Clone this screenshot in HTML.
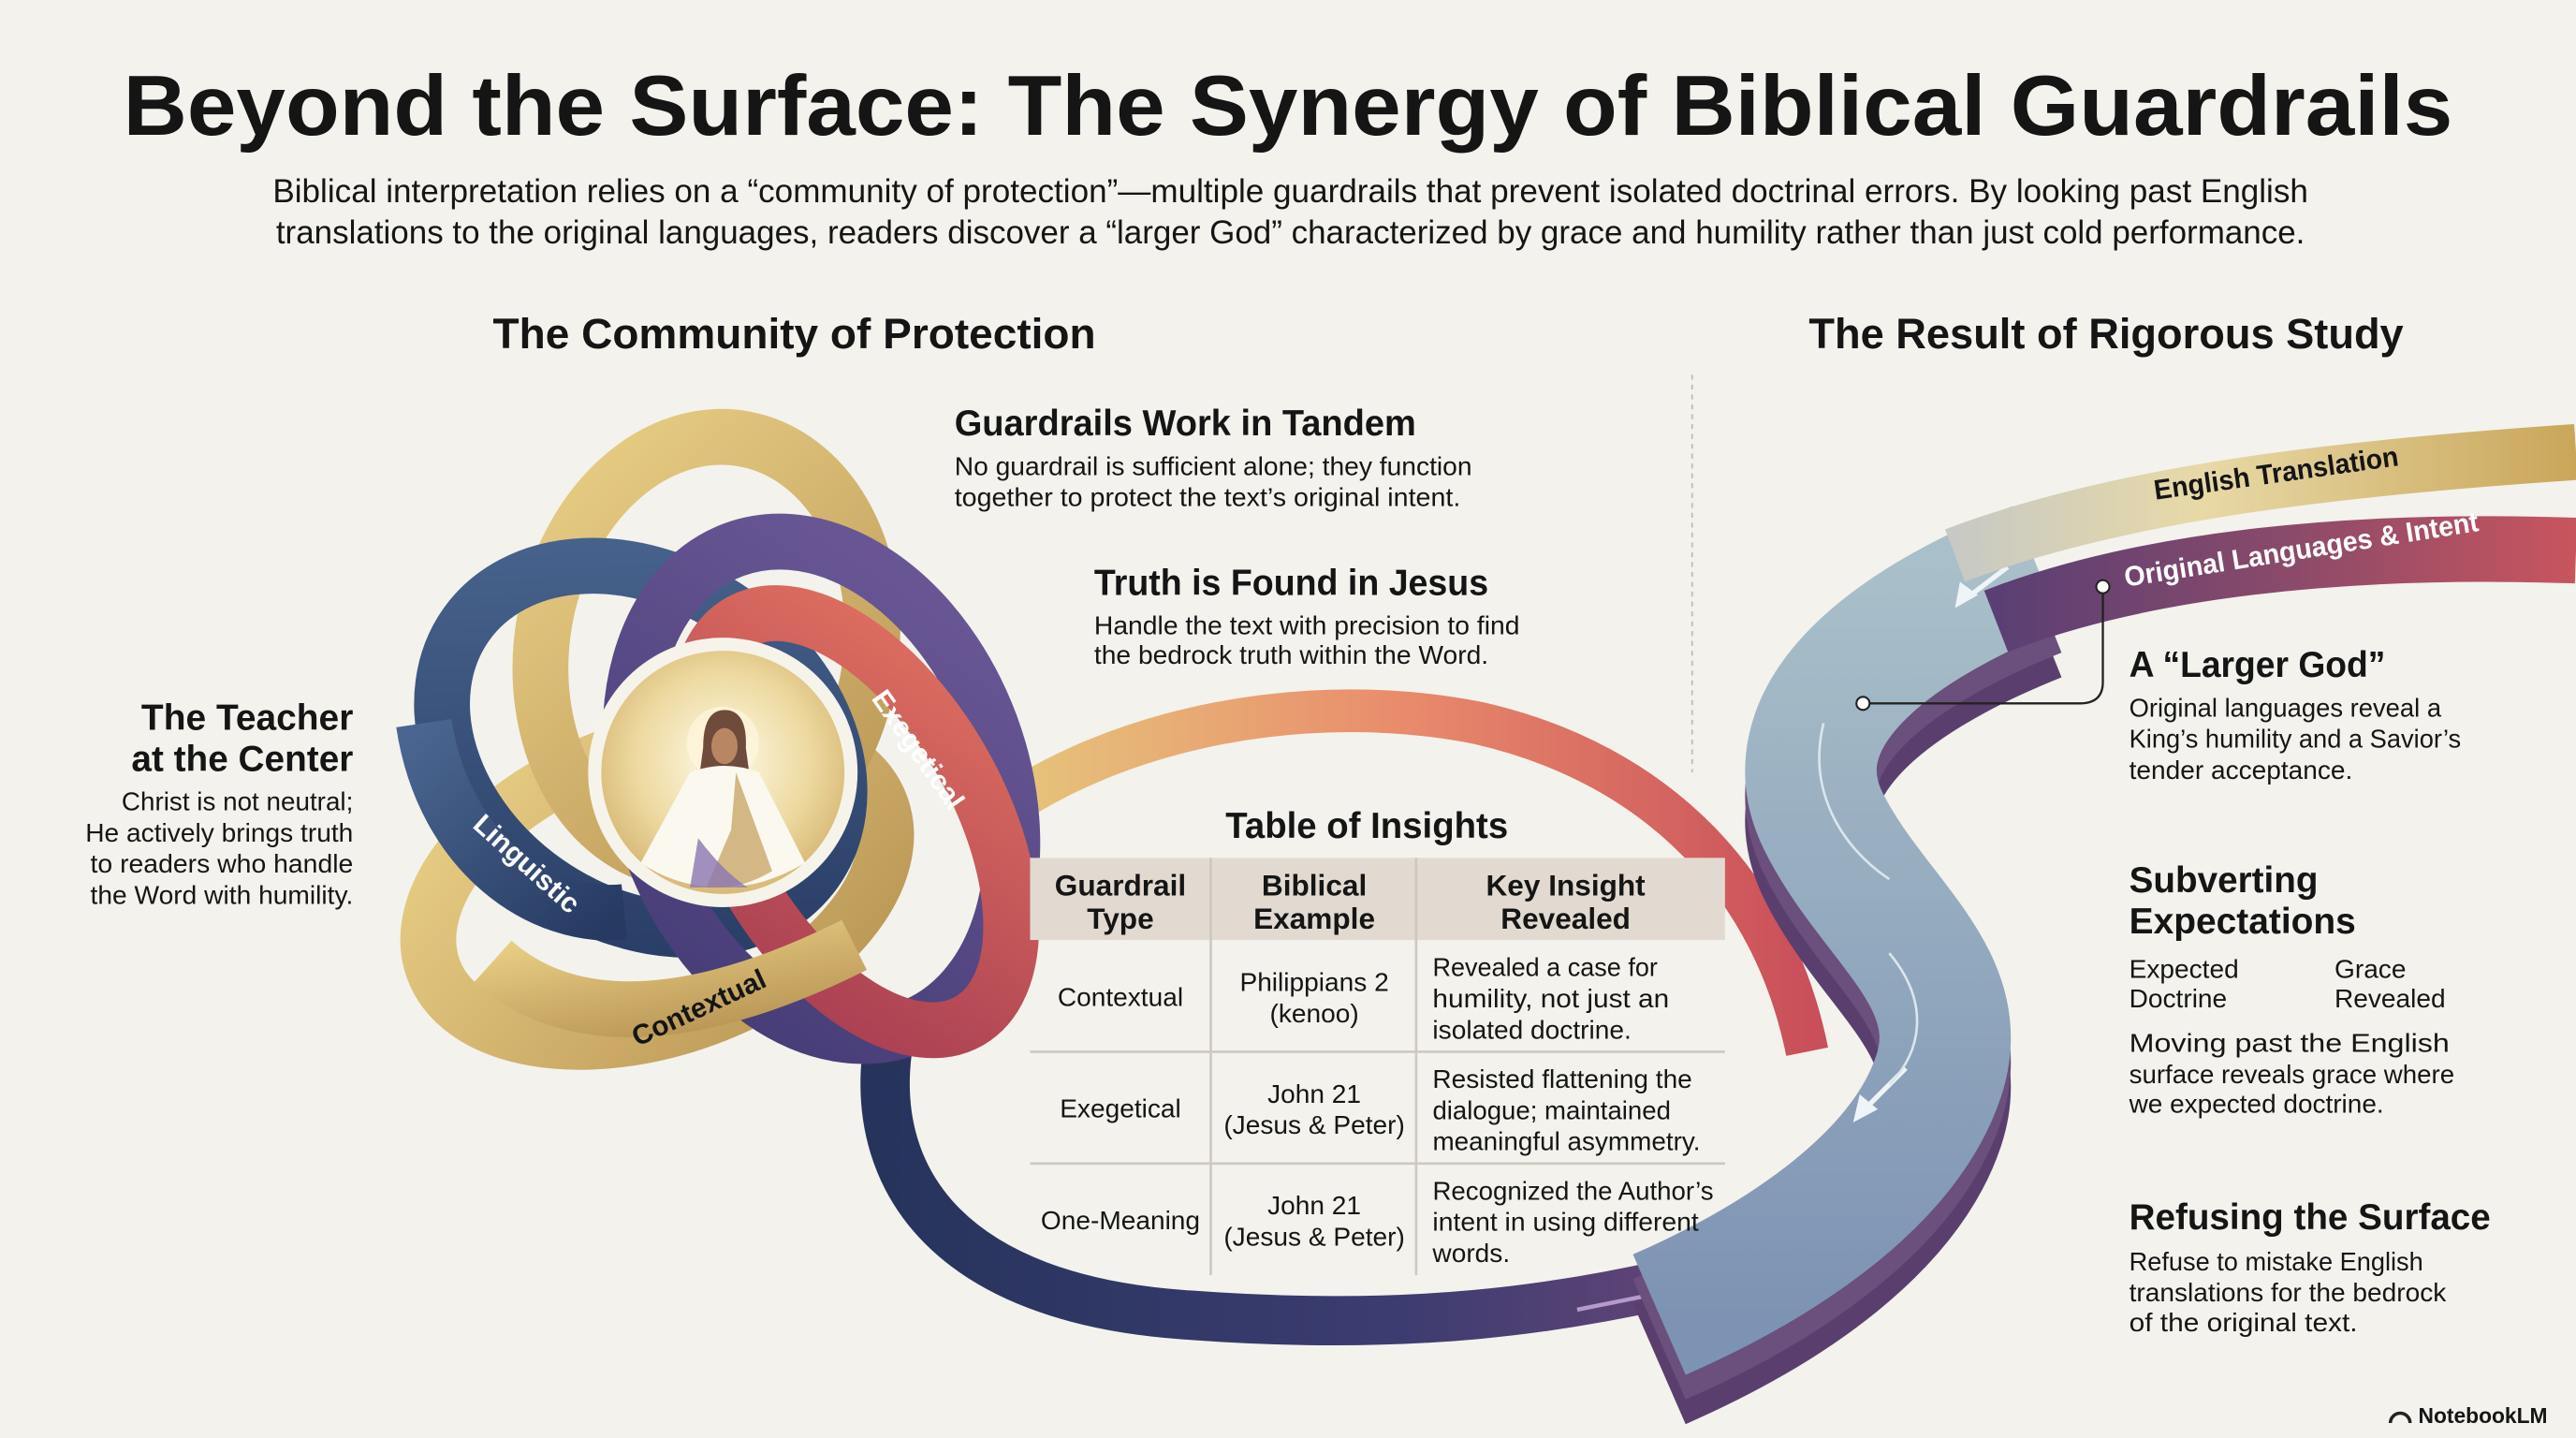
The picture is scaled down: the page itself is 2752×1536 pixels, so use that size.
<!DOCTYPE html>
<html><head><meta charset="utf-8"><style>
html,body{margin:0;padding:0;background:#f3f2ed;}
svg{display:block;}
text{font-family:"Liberation Sans",sans-serif;fill:#151515;}
.h{font-weight:bold;font-size:22px;}
.b{font-size:16px;}
.t{font-size:16px;}
</style></head><body>
<svg width="2752" height="1536" viewBox="0 0 1568 875" xmlns="http://www.w3.org/2000/svg">
<defs>
<linearGradient id="gold" x1="0" y1="0" x2="1" y2="1"><stop offset="0" stop-color="#e9cf86"/><stop offset="1" stop-color="#b99554"/></linearGradient>
<linearGradient id="blue" x1="0" y1="0" x2="1" y2="1"><stop offset="0" stop-color="#4a6690"/><stop offset="1" stop-color="#263a62"/></linearGradient>
<linearGradient id="purp" x1="0" y1="0" x2="1" y2="1"><stop offset="0" stop-color="#6d5a98"/><stop offset="1" stop-color="#433a74"/></linearGradient>
<linearGradient id="red" x1="0" y1="0" x2="1" y2="1"><stop offset="0" stop-color="#e07060"/><stop offset="1" stop-color="#a63d52"/></linearGradient>
<linearGradient id="arcg" x1="0" y1="0" x2="1" y2="0"><stop offset="0" stop-color="#e6c97c"/><stop offset="0.5" stop-color="#e98c6c"/><stop offset="1" stop-color="#c94f5a"/></linearGradient>
<linearGradient id="navy" x1="0" y1="0" x2="1" y2="0"><stop offset="0" stop-color="#26345c"/><stop offset="0.6" stop-color="#3c3c70"/><stop offset="1" stop-color="#6a4678"/></linearGradient>
<linearGradient id="topg" x1="0" y1="0" x2="1" y2="0"><stop offset="0" stop-color="#c7c9c4"/><stop offset="0.4" stop-color="#e8d9a6"/><stop offset="1" stop-color="#c9a65a"/></linearGradient>
<linearGradient id="topr" x1="0" y1="0" x2="1" y2="0"><stop offset="0" stop-color="#5a3f74"/><stop offset="0.5" stop-color="#8a4a6a"/><stop offset="1" stop-color="#c8555e"/></linearGradient>
<linearGradient id="river" x1="0" y1="0" x2="0" y2="1"><stop offset="0" stop-color="#a9bfc9"/><stop offset="1" stop-color="#7d93b3"/></linearGradient>
<radialGradient id="halo" cx="0.5" cy="0.45" r="0.6"><stop offset="0" stop-color="#fffbe8"/><stop offset="0.6" stop-color="#edd9a0"/><stop offset="1" stop-color="#d3b26d"/></radialGradient>
</defs>
<rect width="1568" height="875" fill="#f3f2ed"/>

<!-- Title -->
<text x="784" y="82" text-anchor="middle" font-size="52" font-weight="bold" textLength="1418" lengthAdjust="spacingAndGlyphs">Beyond the Surface: The Synergy of Biblical Guardrails</text>
<text x="166" y="123" font-size="20" textLength="1239" lengthAdjust="spacingAndGlyphs">Biblical interpretation relies on a “community of protection”—multiple guardrails that prevent isolated doctrinal errors. By looking past English</text>
<text x="168" y="148" font-size="20" textLength="1235" lengthAdjust="spacingAndGlyphs">translations to the original languages, readers discover a “larger God” characterized by grace and humility rather than just cold performance.</text>

<text x="300" y="212" font-size="26" font-weight="bold" textLength="367" lengthAdjust="spacingAndGlyphs">The Community of Protection</text>
<text x="1101" y="212" font-size="26" font-weight="bold" textLength="362" lengthAdjust="spacingAndGlyphs">The Result of Rigorous Study</text>
<line x1="1030" y1="228" x2="1030" y2="470" stroke="#bbb" stroke-width="1" stroke-dasharray="3,3"/>

<!-- Big loop around table -->
<path d="M600,500 C680,440 800,420 900,440 C1010,465 1080,540 1100,640" fill="none" stroke="url(#arcg)" stroke-width="26"/>
<path d="M540,640 C530,720 580,790 720,800 C850,810 950,800 1060,770" fill="none" stroke="url(#navy)" stroke-width="30"/>
<path d="M960,797 L1035,782" stroke="#b59acb" stroke-width="2.5" fill="none"/>
<path d="M1043,780 L1028,775 L1031,789 Z" fill="#b59acb"/>

<!-- River -->
<g fill="none" stroke-width="80">
<path d="M1240,345 C1140,385 1080,440 1110,500 C1140,560 1200,595 1180,655 C1160,715 1090,765 1010,800" stroke="#5a3f6e" transform="translate(0,30)"/>
<path d="M1240,345 C1140,385 1080,440 1110,500 C1140,560 1200,595 1180,655 C1160,715 1090,765 1010,800" stroke="#6b4f7c" transform="translate(0,15)"/>
<path d="M1240,345 C1140,385 1080,440 1110,500 C1140,560 1200,595 1180,655 C1160,715 1090,765 1010,800" stroke="url(#river)"/>
</g>
<path d="M1222,345 L1197,364" stroke="#eef4f7" stroke-width="3"/><path d="M1190,370 L1193,354 L1204,362 Z" fill="#eef4f7"/>
<path d="M1160,650 L1135,675" stroke="#eef4f7" stroke-width="3"/><path d="M1128,683 L1132,666 L1143,675 Z" fill="#eef4f7"/>
<path d="M1110,440 C1100,480 1120,515 1150,535" stroke="#dbe6ec" stroke-width="1.5" fill="none"/>
<path d="M1150,580 C1175,610 1170,640 1150,660" stroke="#dbe6ec" stroke-width="1.5" fill="none"/>

<!-- top ribbons -->
<path d="M1215,378 C1300,345 1420,330 1568,335" fill="none" stroke="url(#topr)" stroke-width="40"/>
<path d="M1190,338 C1290,300 1420,285 1568,275" fill="none" stroke="url(#topg)" stroke-width="34"/>
<text x="1312" y="304" font-size="17" font-weight="bold" transform="rotate(-8 1312 304)" textLength="150" lengthAdjust="spacingAndGlyphs">English Translation</text>
<text x="1294" y="357" font-size="17" font-weight="bold" style="fill:#fff" transform="rotate(-9 1294 357)" textLength="218" lengthAdjust="spacingAndGlyphs">Original Languages &amp; Intent</text>

<!-- connector -->
<path d="M1280,357 L1280,415 Q1280,428 1266,428 L1134,428" fill="none" stroke="#222" stroke-width="1.3"/>
<circle cx="1280" cy="357" r="4" fill="#fff" stroke="#222" stroke-width="1.2"/>
<circle cx="1134" cy="428" r="4" fill="#fff" stroke="#222" stroke-width="1.2"/>

<!-- Rings -->
<g fill="none" stroke-width="34">
<ellipse cx="400" cy="540" rx="145" ry="85" transform="rotate(-20 400 540)" stroke="url(#gold)"/>
<ellipse cx="430" cy="395" rx="100" ry="130" transform="rotate(10 430 395)" stroke="url(#gold)"/>
<ellipse cx="390" cy="455" rx="130" ry="100" transform="rotate(35 390 455)" stroke="url(#blue)"/>
<ellipse cx="500" cy="480" rx="155" ry="110" transform="rotate(70 500 480)" stroke="url(#purp)"/>
<ellipse cx="520" cy="500" rx="140" ry="75" transform="rotate(60 520 500)" stroke="url(#red)"/>
<path d="M300,585 C350,630 430,620 520,575" stroke="url(#gold)"/>
<path d="M258,440 C270,520 330,560 380,555" stroke="url(#blue)"/>
</g>
<text x="287" y="503" font-size="17" font-weight="bold" style="fill:#fff" transform="rotate(42 287 503)">Linguistic</text>
<text x="530" y="425" font-size="17" font-weight="bold" style="fill:#fff" transform="rotate(55 530 425)">Exegetical</text>
<text x="388" y="637" font-size="17" font-weight="bold" transform="rotate(-25 388 637)">Contextual</text>

<!-- center Jesus -->
<circle cx="440" cy="470" r="82" fill="#f6f3ea"/>
<circle cx="440" cy="470" r="74" fill="url(#halo)"/>
<circle cx="440" cy="452" r="22" fill="#fff7e0" opacity="0.7"/>
<path d="M428,455 Q428,432 441,432 Q455,432 454,455 L456,470 L426,470 Z" fill="#6e4b3a"/>
<ellipse cx="441" cy="454" rx="8" ry="11" fill="#b98663"/>
<path d="M420,470 Q441,462 462,470 L490,525 Q465,540 440,540 Q412,540 390,525 Z" fill="#fbf8f0"/>
<path d="M448,470 L470,530 Q450,542 430,540 L445,505 Z" fill="#c9a86a" opacity="0.8"/>
<path d="M425,510 Q440,530 455,540 L420,540 Z" fill="#8b75b0" opacity="0.8"/>

<!-- middle texts -->
<text x="581" y="265" class="h" textLength="281" lengthAdjust="spacingAndGlyphs">Guardrails Work in Tandem</text>
<text x="581" y="289" class="b" textLength="315" lengthAdjust="spacingAndGlyphs">No guardrail is sufficient alone; they function</text>
<text x="581" y="308" class="b" textLength="308" lengthAdjust="spacingAndGlyphs">together to protect the text’s original intent.</text>
<text x="666" y="362" class="h" textLength="240" lengthAdjust="spacingAndGlyphs">Truth is Found in Jesus</text>
<text x="666" y="386" class="b" textLength="259" lengthAdjust="spacingAndGlyphs">Handle the text with precision to find</text>
<text x="666" y="404" class="b" textLength="240" lengthAdjust="spacingAndGlyphs">the bedrock truth within the Word.</text>

<text x="215" y="444" class="h" text-anchor="end" textLength="129" lengthAdjust="spacingAndGlyphs">The Teacher</text>
<text x="215" y="469" class="h" text-anchor="end" textLength="135" lengthAdjust="spacingAndGlyphs">at the Center</text>
<text x="215" y="493" class="b" text-anchor="end" textLength="141" lengthAdjust="spacingAndGlyphs">Christ is not neutral;</text>
<text x="215" y="512" class="b" text-anchor="end" textLength="163" lengthAdjust="spacingAndGlyphs">He actively brings truth</text>
<text x="215" y="531" class="b" text-anchor="end" textLength="160" lengthAdjust="spacingAndGlyphs">to readers who handle</text>
<text x="215" y="550" class="b" text-anchor="end" textLength="160" lengthAdjust="spacingAndGlyphs">the Word with humility.</text>

<!-- Table -->
<text x="832" y="510" text-anchor="middle" class="h" textLength="172" lengthAdjust="spacingAndGlyphs">Table of Insights</text>
<rect x="627" y="522" width="423" height="50" fill="#e2dad1"/>
<g stroke="#cfc8bf" stroke-width="1.5">
<line x1="737" y1="522" x2="737" y2="776"/><line x1="862" y1="522" x2="862" y2="776"/>
<line x1="627" y1="640" x2="1050" y2="640"/><line x1="627" y1="708" x2="1050" y2="708"/>
</g>
<g font-size="18" font-weight="bold" text-anchor="middle">
<text x="682" y="545">Guardrail</text><text x="682" y="565">Type</text>
<text x="800" y="545">Biblical</text><text x="800" y="565">Example</text>
<text x="953" y="545">Key Insight</text><text x="953" y="565">Revealed</text>
</g>
<g class="t" text-anchor="middle">
<text x="682" y="612" class="t">Contextual</text>
<text x="800" y="603" class="t">Philippians 2</text><text x="800" y="622" class="t">(kenoo)</text>
<text x="682" y="680" class="t">Exegetical</text>
<text x="800" y="671" class="t">John 21</text><text x="800" y="690" class="t">(Jesus &amp; Peter)</text>
<text x="682" y="748" class="t">One-Meaning</text>
<text x="800" y="739" class="t">John 21</text><text x="800" y="758" class="t">(Jesus &amp; Peter)</text>
</g>
<g class="t">
<text x="872" y="594" class="t" textLength="137" lengthAdjust="spacingAndGlyphs">Revealed a case for</text>
<text x="872" y="613" class="t" textLength="144" lengthAdjust="spacingAndGlyphs">humility, not just an</text>
<text x="872" y="632" class="t" textLength="121" lengthAdjust="spacingAndGlyphs">isolated doctrine.</text>
<text x="872" y="662" class="t" textLength="158" lengthAdjust="spacingAndGlyphs">Resisted flattening the</text>
<text x="872" y="681" class="t" textLength="145" lengthAdjust="spacingAndGlyphs">dialogue; maintained</text>
<text x="872" y="700" class="t" textLength="163" lengthAdjust="spacingAndGlyphs">meaningful asymmetry.</text>
<text x="872" y="730" class="t" textLength="171" lengthAdjust="spacingAndGlyphs">Recognized the Author’s</text>
<text x="872" y="749" class="t" textLength="162" lengthAdjust="spacingAndGlyphs">intent in using different</text>
<text x="872" y="768" class="t">words.</text>
</g>

<!-- right texts -->
<text x="1296" y="412" class="h" textLength="156" lengthAdjust="spacingAndGlyphs">A “Larger God”</text>
<text x="1296" y="436" class="b" textLength="190" lengthAdjust="spacingAndGlyphs">Original languages reveal a</text>
<text x="1296" y="455" class="b" textLength="202" lengthAdjust="spacingAndGlyphs">King’s humility and a Savior’s</text>
<text x="1296" y="474" class="b" textLength="136" lengthAdjust="spacingAndGlyphs">tender acceptance.</text>
<text x="1296" y="543" class="h" textLength="115" lengthAdjust="spacingAndGlyphs">Subverting</text>
<text x="1296" y="568" class="h" textLength="138" lengthAdjust="spacingAndGlyphs">Expectations</text>
<text x="1296" y="595" class="b">Expected</text><text x="1296" y="613" class="b">Doctrine</text>
<text x="1421" y="595" class="b">Grace</text><text x="1421" y="613" class="b">Revealed</text>
<text x="1296" y="640" class="b" textLength="195" lengthAdjust="spacingAndGlyphs">Moving past the English</text>
<text x="1296" y="659" class="b" textLength="198" lengthAdjust="spacingAndGlyphs">surface reveals grace where</text>
<text x="1296" y="677" class="b" textLength="155" lengthAdjust="spacingAndGlyphs">we expected doctrine.</text>
<text x="1296" y="748" class="h" textLength="220" lengthAdjust="spacingAndGlyphs">Refusing the Surface</text>
<text x="1296" y="773" class="b" textLength="179" lengthAdjust="spacingAndGlyphs">Refuse to mistake English</text>
<text x="1296" y="792" class="b" textLength="193" lengthAdjust="spacingAndGlyphs">translations for the bedrock</text>
<text x="1296" y="810" class="b" textLength="139" lengthAdjust="spacingAndGlyphs">of the original text.</text>

<text x="1472" y="866" font-size="13" font-weight="bold">NotebookLM</text>
<path d="M1455,866 a6,6 0 0 1 12,0" fill="none" stroke="#222" stroke-width="2"/>
</svg>
</body></html>
